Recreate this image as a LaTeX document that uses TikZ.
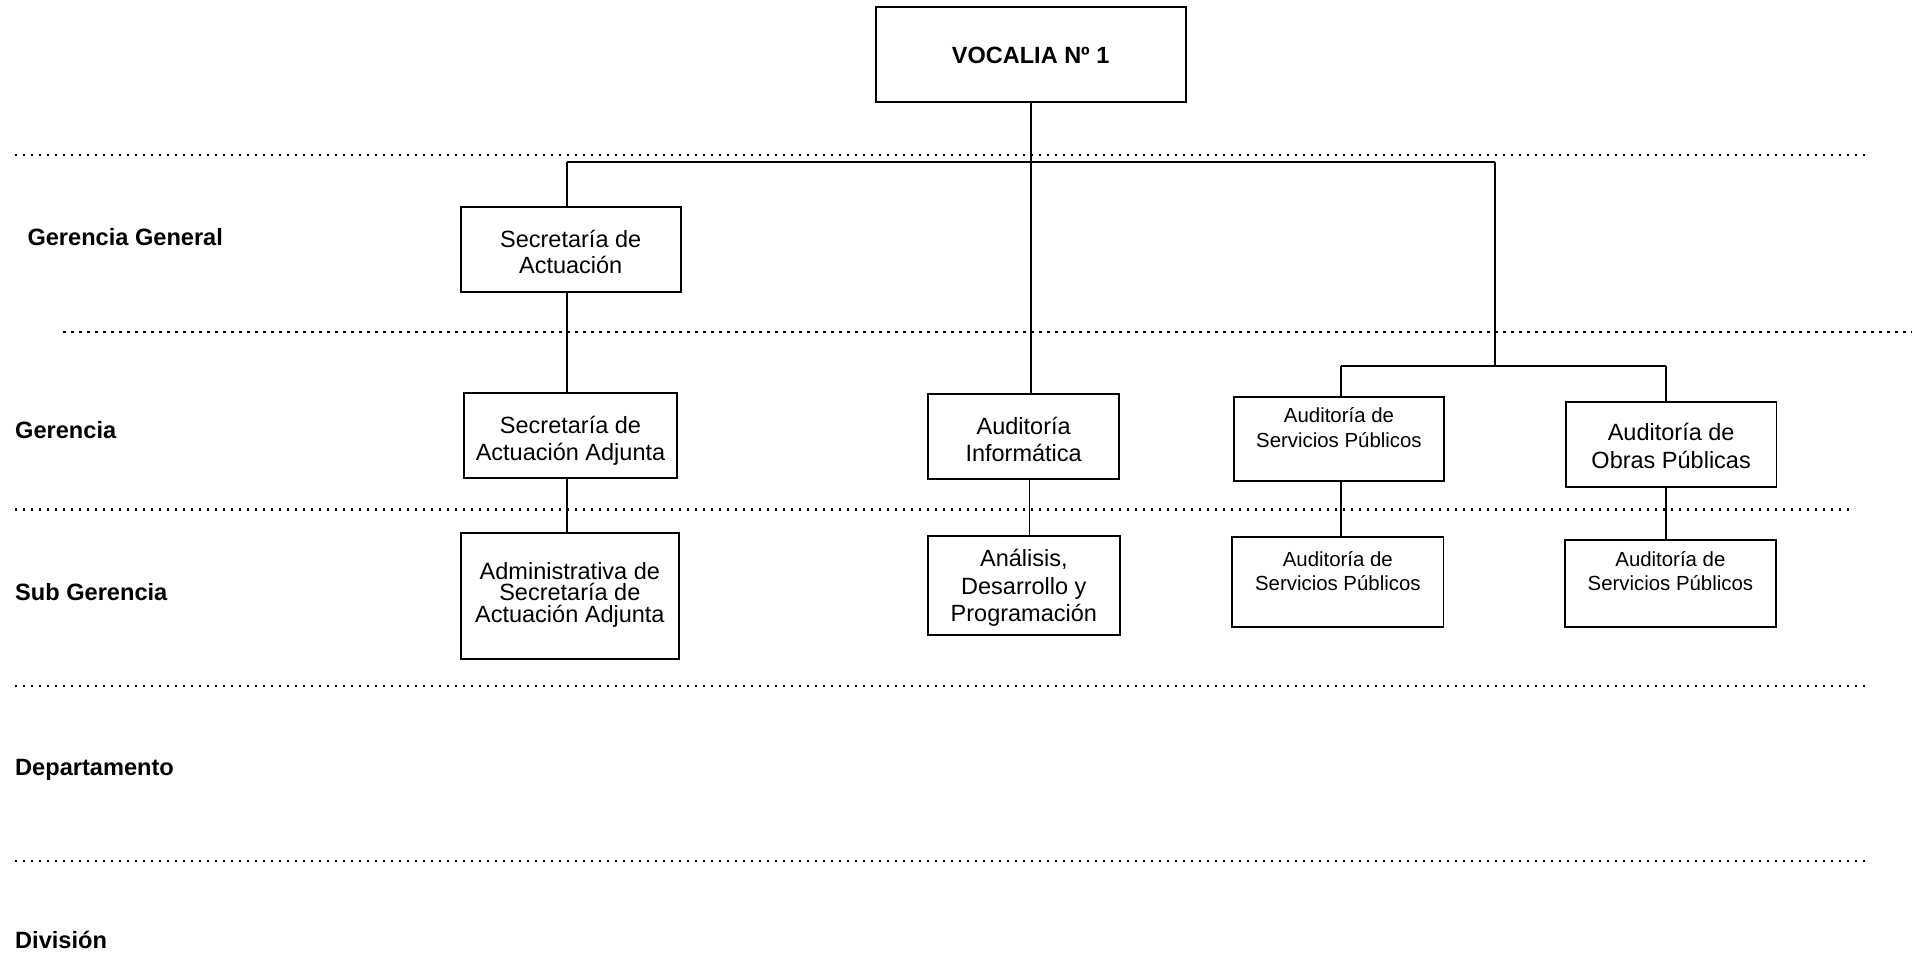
\documentclass[tikz,border=0pt]{standalone}
\usepackage{fontspec}
\setmainfont{Liberation Sans}
\newcommand{\mybx}[6]{\parbox[c][#2pt][t]{#1pt}{\centering\fontsize{#5}{#4}\selectfont\lineskiplimit=-50pt\rule{0pt}{#3pt}#6}}
\tikzset{
  orgbox/.style={draw, line width=1.8pt, inner sep=0pt},
  conn/.style={line width=1.8pt},
  dotsep/.style={line width=2.4pt, dash pattern=on 2.4pt off 5.6pt},
  lvl/.style={inner sep=0pt, anchor=base west, font=\bfseries\fontsize{23.6}{28}\selectfont}
}
\begin{document}
\begin{tikzpicture}[x=1pt, y=-1pt]
\useasboundingbox (0,0) rectangle (1912,957);
\fill[white] (0,0) rectangle (1912,957);

% dotted level separators
\draw[dotsep] (14.6,155) -- (1866.7,155);
\draw[dotsep] (63.3,332.3) -- (1912,332.3);
\draw[dotsep] (15,509.3) -- (1855,509.3);
\draw[dotsep] (15,686) -- (1865,686);
\draw[dotsep] (15,861) -- (1865,861);

% level labels
\node[lvl] (lgg) at (27.3,246) {Gerencia General};
\node[lvl] (lg) at (15,438.3) {Gerencia};
\node[lvl] (lsg) at (15,600) {Sub Gerencia};
\node[lvl] (ldep) at (15,775) {Departamento};
\node[lvl] (ldiv) at (15,948.3) {División};

% boxes
\node[orgbox] (voc) at (1030.7,54.5) {\mybx{310}{94.4}{56}{28}{23.5}{\bfseries VOCALIA Nº 1}};
\node[orgbox] (sa) at (570.7,249.2) {\mybx{220}{85}{40.6}{26}{23.5}{Secretaría de\\Actuación}};
\node[orgbox] (saa) at (570.5,435.5) {\mybx{212.4}{85.6}{41.3}{26.7}{23.5}{Secretaría de\\Actuación Adjunta}};
\node[orgbox] (adm) at (569.85,596) {\mybx{218.3}{126.6}{46.6}{21.5}{23.5}{Administrativa de\\Secretaría de\\Actuación Adjunta}};
\node[orgbox] (ai) at (1023.65,436.65) {\mybx{190.7}{85.3}{41}{26.7}{23.5}{Auditoría\\Informática}};
\node[orgbox] (adp) at (1023.85,585.5) {\mybx{192.3}{99}{30.7}{27.5}{23.5}{Análisis,\\Desarrollo y\\Programación}};
\node[orgbox] (asp1) at (1338.95,438.85) {\mybx{210.5}{84.3}{26}{25}{20.4}{Auditoría de\\Servicios Públicos}};
\node[orgbox] (asp2) at (1337.85,582) {\mybx{211.3}{90.6}{29.3}{24}{20.4}{Auditoría de\\Servicios Públicos}};
\node[orgbox] (aop) at (1671.15,444.2) {\mybx{210.5}{85}{39}{27.6}{23.5}{Auditoría de\\Obras Públicas}};
\node[orgbox] (asp3) at (1670.4,583.65) {\mybx{210.4}{87.3}{26.7}{24}{20.4}{Auditoría de\\Servicios Públicos}};

% junction coordinates
\coordinate (bl) at (566.7,162.3);
\coordinate (br) at (1494.7,162.3);
\coordinate (rj) at (1494.7,365.7);
\coordinate (rl) at (1341.3,365.7);
\coordinate (rr) at (1665.6,365.7);
\coordinate (ax) at (1029.5,0);

% connectors
\draw[conn] (bl) -- (br);
\draw[conn] (voc.south) -- (voc.south |- ai.north);
\draw[conn] (bl) -- (bl |- sa.north);
\draw[conn] (bl |- sa.south) -- (bl |- saa.north);
\draw[conn] (bl |- saa.south) -- (bl |- adm.north);
\draw[conn] (ax |- ai.south) -- (ax |- adp.north);
\draw[conn] (br) -- (rj);
\draw[conn] (rl) -- (rr);
\draw[conn] (rl) -- (rl |- asp1.north);
\draw[conn] (rr) -- (rr |- aop.north);
\draw[conn] (rl |- asp1.south) -- (rl |- asp2.north);
\draw[conn] (rr |- aop.south) -- (rr |- asp3.north);
\end{tikzpicture}
\end{document}
